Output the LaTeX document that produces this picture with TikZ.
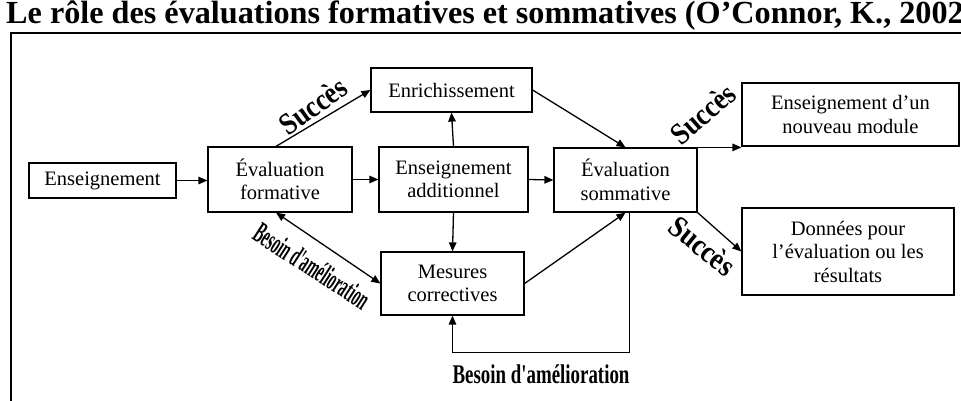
\documentclass[tikz,border=0pt]{standalone}
\usepackage{fontspec}
\setmainfont{Liberation Serif}
\usetikzlibrary{arrows.meta}
\begin{document}
\begin{tikzpicture}[x=1pt,y=-1pt,
  box/.style={draw, line width=1.2pt, align=center, inner sep=0pt,
    font=\fontsize{20.5}{23.5}\selectfont},
  arr/.style={draw, line width=1.3pt, -{Triangle[length=9pt,width=7.5pt]}},
  darr/.style={draw, line width=1.3pt, {Triangle[length=9pt,width=7.5pt]}-{Triangle[length=9pt,width=7.5pt]}},
  lbl/.style={inner sep=0pt, font=\fontsize{28}{28}\selectfont\bfseries},
  frame/.style={line width=2.5pt}]
\useasboundingbox (0,0) rectangle (961,401);
\clip (0,0) rectangle (961,401);
% title and frame
\node[anchor=base west, inner sep=0pt, font=\fontsize{32.2}{32.2}\selectfont\bfseries] (title) at (6,24)
  {Le rôle des évaluations formatives et sommatives (O’Connor, K., 2002)};
\draw[frame] (965,33) -- (11,33) -- (11,405);
% boxes
\node[box, minimum width=147pt, minimum height=35pt] (ens) at (102.5,180.5) {Enseignement};
\node[box, minimum width=144pt, minimum height=65pt] (evf) at (280,179.5) {Évaluation\\formative};
\node[box, minimum width=161pt, minimum height=44pt] (enr) at (451.5,90) {Enrichissement};
\node[box, minimum width=149pt, minimum height=65pt] (add) at (453.5,179.5) {Enseignement\\additionnel};
\node[box, minimum width=143pt, minimum height=64pt] (evs) at (625.5,180) {Évaluation\\sommative};
\node[box, minimum width=143pt, minimum height=63pt] (mes) at (452.5,283.5) {Mesures\\correctives};
\node[box, minimum width=217pt, minimum height=63pt] (nmod) at (850.5,114.5) {Enseignement d’un\\nouveau module};
\node[box, minimum width=212pt, minimum height=87pt] (don) at (848,251.5) {Données pour\\l’évaluation ou les\\résultats};
% connectors
\draw[arr] (ens.east) -- (ens.east -| evf.west);
\draw[arr] (evf.east) -- (add.west);
\draw[arr] (add.east) -- (evs.west);
\draw[arr] (add.north) -- (enr.south);
\draw[arr] (add.south) -- (mes.north);
\draw[arr] ([xshift=-4pt]evf.north) -- (enr.west);
\draw[arr] (enr.east) -- (evs.north);
\draw[darr] ([xshift=-4pt]evf.south) -- (mes.west);
\draw[arr] (mes.east) -- (evs.south);
\draw[arr] ([xshift=4pt]evs.south) -- ++(0,140) -| (mes.south);
\draw[arr] (evs.north east) -- (evs.north east -| nmod.west);
\draw[arr] (evs.south east) -- (don.west);
% labels
\node[lbl, rotate=36, xscale=0.95, yscale=1.1] (s1) at (313,106) {Succès};
\node[lbl, rotate=41, xscale=0.95, yscale=1.1] (s2) at (703,114) {Succès};
\node[lbl, rotate=-39, xscale=0.95, yscale=1.1] (s3) at (702.5,246) {Succès};
\node[lbl, rotate=-33, xscale=0.47, font=\fontsize{30}{30}\selectfont\bfseries] (b1) at (312,266) {Besoin d\textquotesingle amélioration};
\node[lbl, xscale=0.7, font=\fontsize{27}{27}\selectfont\bfseries] (b2) at (541,374) {Besoin d\textquotesingle amélioration};
\end{tikzpicture}
\end{document}
